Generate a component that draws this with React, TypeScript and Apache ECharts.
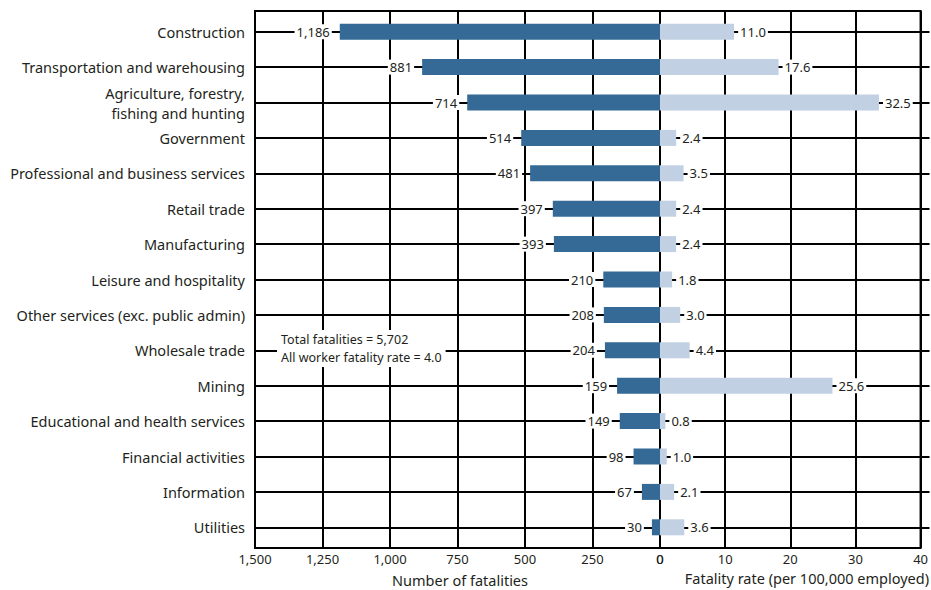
import React, { useEffect, useRef } from "react";
import * as echarts from "echarts";

const categories = [
  "Construction",
  "Transportation and warehousing",
  "Agriculture, forestry,\nfishing and hunting",
  "Government",
  "Professional and business services",
  "Retail trade",
  "Manufacturing",
  "Leisure and hospitality",
  "Other services (exc. public admin)",
  "Wholesale trade",
  "Mining",
  "Educational and health services",
  "Financial activities",
  "Information",
  "Utilities",
];
const fatalities = [1186, 881, 714, 514, 481, 397, 393, 210, 208, 204, 159, 149, 98, 67, 30];
const rates = [11.0, 17.6, 32.5, 2.4, 3.5, 2.4, 2.4, 1.8, 3.0, 4.4, 25.6, 0.8, 1.0, 2.1, 3.6];
const leftAxisTitle = "Number of fatalities";
const rightAxisTitle = "Fatality rate (per 100,000 employed)";
const noteLines = ["Total fatalities = 5,702", "All worker fatality rate = 4.0"];

const FONT = "'Noto Sans', sans-serif";
const INK = "#231f20";
const DARK = "#346a95";
const LIGHT = "#c1d0e3";

export default function App() {
  const ref = useRef<HTMLDivElement>(null);
  useEffect(() => {
    if (!ref.current) return;
    const chart = echarts.init(ref.current, null, { renderer: "svg" });
    const lineStyle = { color: "#000", width: 2 };
    const markLine = {
      silent: true,
      symbol: "none",
      z: 1,
      label: { show: false },
      lineStyle: { color: "#000", width: 2, type: "solid" },
      data: categories.map((c) => ({ yAxis: c })),
    };
    const option: any = {
      animation: false,
      textStyle: { fontFamily: FONT },
      grid: [
        { left: 255, width: 405, top: 11, height: 537, show: true, borderColor: "#000", borderWidth: 2, backgroundColor: "transparent" },
        { left: 255, width: 405, top: 14, height: 531 },
        { left: 660, width: 269.5, top: 11, height: 537, show: true, borderColor: "#000", borderWidth: 2, backgroundColor: "transparent" },
        { left: 660, width: 269.5, top: 14, height: 531 },
      ],
      xAxis: [
        {
          gridIndex: 0, type: "value", inverse: true, min: 0, max: 1500, interval: 250,
          axisLine: { show: false }, axisTick: { show: false },
          splitLine: { show: true, lineStyle },
          axisLabel: { formatter: (v: number) => v.toLocaleString("en-US"), margin: 4, fontSize: 13, color: INK, fontFamily: FONT },
        },
        { gridIndex: 1, type: "value", inverse: true, min: 0, max: 1500, show: false },
        {
          gridIndex: 2, type: "value", min: 0, max: 40, interval: 10,
          axisLine: { show: false }, axisTick: { show: false },
          splitLine: { show: true, lineStyle },
          axisLabel: { margin: 4, fontSize: 13, color: INK, fontFamily: FONT },
        },
        { gridIndex: 3, type: "value", min: 0, max: 40, show: false },
      ],
      yAxis: [
        { gridIndex: 0, type: "value", min: 0, max: 1, show: false },
        {
          gridIndex: 1, type: "category", inverse: true, data: categories,
          axisLine: { show: false },
          axisTick: { show: true, alignWithLabel: true, length: 3, lineStyle },
          axisLabel: { fontSize: 14.5, color: INK, margin: 10, lineHeight: 20, fontFamily: FONT },
        },
        { gridIndex: 2, type: "value", min: 0, max: 1, show: false },
        { gridIndex: 3, type: "category", inverse: true, data: categories, show: false },
      ],
      series: [
        {
          type: "bar", xAxisIndex: 1, yAxisIndex: 1, data: fatalities, barWidth: 16, z: 3,
          itemStyle: { color: DARK },
          label: {
            show: true, position: "left", distance: 8,
            formatter: (p: any) => Number(p.value).toLocaleString("en-US"),
            backgroundColor: "#fff", padding: [1, 2], color: INK, fontSize: 13, fontFamily: FONT,
          },
          markLine,
        },
        {
          type: "bar", xAxisIndex: 3, yAxisIndex: 3, data: rates, barWidth: 16, z: 3,
          itemStyle: { color: LIGHT },
          label: {
            show: true, position: "right", distance: 4,
            formatter: (p: any) => Number(p.value).toFixed(1),
            backgroundColor: "#fff", padding: [1, 2], color: INK, fontSize: 13, fontFamily: FONT,
          },
          markLine,
        },
      ],
      graphic: [
        {
          type: "text", left: 277, top: 330, z: 10,
          style: {
            text: noteLines.join("\n"), fill: INK, font: `12.5px ${FONT}`, lineHeight: 17.5,
            backgroundColor: "#fff", padding: [1, 4],
          },
        },
        {
          type: "text", x: 460, y: 580, z: 10,
          style: { text: leftAxisTitle, fill: INK, font: `14.5px ${FONT}`, align: "center", verticalAlign: "middle" },
        },
        {
          type: "text", x: 929, y: 578, z: 10,
          style: { text: rightAxisTitle, fill: INK, font: `14.5px ${FONT}`, align: "right", verticalAlign: "middle" },
        },
      ],
    };
    chart.setOption(option);
    return () => chart.dispose();
  }, []);
  return <div ref={ref} style={{ width: 931, height: 590, position: "absolute", left: 0, top: 0 }} />;
}
